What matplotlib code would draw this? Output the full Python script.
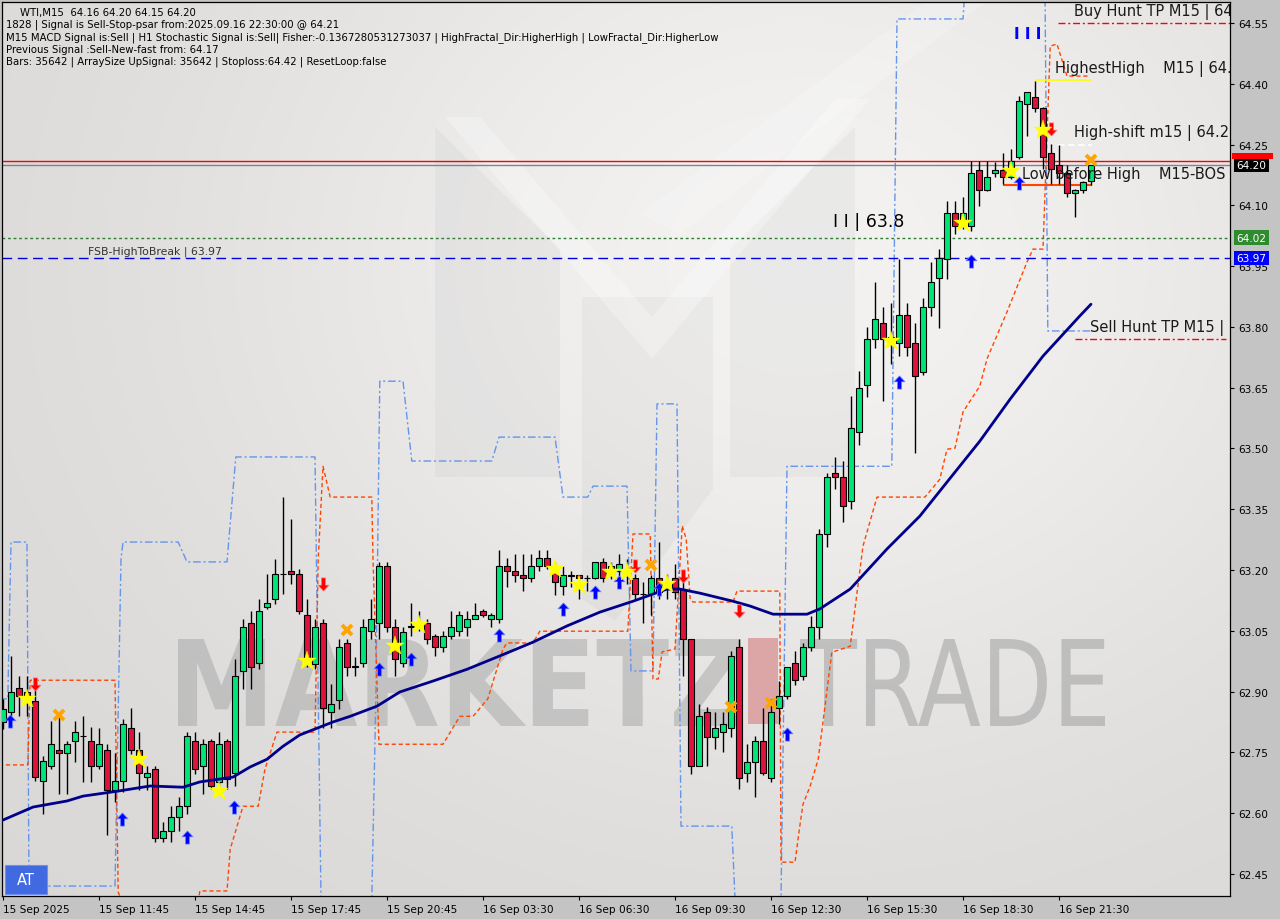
import numpy as np
import matplotlib
matplotlib.use("Agg")
import matplotlib.pyplot as plt
import matplotlib.transforms as mtransforms
from matplotlib.patches import Rectangle, PathPatch, Polygon
from matplotlib.textpath import TextPath
from matplotlib.font_manager import FontProperties
from matplotlib.path import Path

# ---------------- data ----------------
opens = [62.825, 62.849, 62.909, 62.899, 62.876, 62.679, 62.716, 62.755, 62.748, 62.778,
         62.790, 62.778, 62.716, 62.755, 62.657, 62.679, 62.810, 62.755, 62.689, 62.709,
         62.538, 62.556, 62.590, 62.617, 62.778, 62.716, 62.778, 62.677, 62.778, 62.699,
         62.951, 63.069, 62.970, 63.108, 63.128, 63.190, 63.197, 63.190, 63.089, 62.968,
         63.069, 62.849, 62.879, 63.020, 62.960, 62.970, 63.049, 63.069, 63.210, 63.059,
         62.970, 63.059, 63.062, 63.069, 63.037, 63.010, 63.037, 63.049, 63.059, 63.079,
         63.099, 63.079, 63.079, 63.210, 63.197, 63.187, 63.180, 63.210, 63.229, 63.210,
         63.160, 63.187, 63.187, 63.180, 63.180, 63.220, 63.187, 63.197, 63.202, 63.180,
         63.141, 63.141, 63.180, 63.165, 63.180, 63.153, 63.030, 62.716, 62.849, 62.788,
         62.800, 62.810, 63.010, 62.699, 62.726, 62.778, 62.686, 62.859, 62.889, 62.970,
         62.938, 63.010, 63.059, 63.289, 63.439, 63.429, 63.370, 63.540, 63.656, 63.770,
         63.809, 63.770, 63.760, 63.829, 63.760, 63.689, 63.849, 63.920, 63.967, 64.081,
         64.061, 64.049, 64.187, 64.138, 64.180, 64.187, 64.170, 64.219, 64.350, 64.367,
         64.340, 64.229, 64.199, 64.180, 64.130, 64.138, 64.160]
highs = [62.882, 62.988, 62.938, 62.938, 62.926, 62.741, 62.827, 62.839, 62.778, 62.827,
         62.839, 62.812, 62.810, 62.770, 62.748, 62.832, 62.859, 62.800, 62.716, 62.716,
         62.578, 62.617, 62.639, 62.800, 62.800, 62.783, 62.783, 62.800, 62.783, 62.980,
         63.079, 63.099, 63.128, 63.190, 63.227, 63.380, 63.326, 63.202, 63.128, 63.079,
         63.079, 62.918, 63.030, 63.030, 62.985, 63.079, 63.128, 63.220, 63.220, 63.079,
         63.059, 63.118, 63.099, 63.079, 63.042, 63.049, 63.099, 63.099, 63.099, 63.118,
         63.104, 63.094, 63.249, 63.229, 63.239, 63.239, 63.239, 63.249, 63.249, 63.220,
         63.210, 63.197, 63.187, 63.187, 63.220, 63.229, 63.220, 63.239, 63.227, 63.190,
         63.170, 63.187, 63.269, 63.190, 63.215, 63.195, 63.030, 62.869, 62.862, 62.849,
         62.849, 63.000, 63.030, 62.770, 62.790, 62.859, 62.882, 62.926, 62.960, 63.000,
         63.020, 63.086, 63.301, 63.439, 63.479, 63.469, 63.629, 63.691, 63.800, 63.911,
         63.849, 63.859, 63.967, 63.859, 63.809, 63.871, 63.960, 63.992, 64.110, 64.110,
         64.120, 64.209, 64.209, 64.209, 64.207, 64.229, 64.239, 64.370, 64.380, 64.407,
         64.343, 64.251, 64.249, 64.199, 64.140, 64.160, 64.200]
lows = [62.807, 62.839, 62.839, 62.839, 62.679, 62.598, 62.709, 62.647, 62.647, 62.726,
        62.677, 62.677, 62.709, 62.546, 62.627, 62.652, 62.746, 62.657, 62.657, 62.528,
        62.528, 62.528, 62.556, 62.598, 62.696, 62.647, 62.659, 62.659, 62.659, 62.667,
        62.906, 62.906, 62.955, 63.104, 63.116, 63.141, 63.165, 63.091, 62.960, 62.955,
        62.810, 62.810, 62.857, 62.938, 62.938, 62.960, 63.030, 63.030, 63.047, 62.938,
        62.960, 63.037, 63.049, 63.017, 62.987, 62.997, 63.030, 63.037, 63.037, 63.079,
        63.084, 63.059, 63.069, 63.158, 63.170, 63.148, 63.170, 63.197, 63.202, 63.138,
        63.138, 63.158, 63.128, 63.148, 63.178, 63.170, 63.178, 63.178, 63.165, 63.128,
        63.069, 63.089, 63.128, 63.128, 63.128, 62.938, 62.696, 62.716, 62.716, 62.758,
        62.751, 62.788, 62.659, 62.677, 62.639, 62.694, 62.677, 62.820, 62.882, 62.916,
        62.928, 63.000, 63.030, 63.257, 63.400, 63.318, 63.350, 63.508, 63.627, 63.748,
        63.617, 63.708, 63.728, 63.728, 63.489, 63.681, 63.827, 63.797, 63.918, 64.029,
        64.041, 64.036, 64.098, 64.135, 64.170, 64.152, 64.165, 64.214, 64.271, 64.330,
        64.190, 64.152, 64.152, 64.120, 64.071, 64.130, 64.150]
closes = [62.857, 62.899, 62.889, 62.889, 62.689, 62.728, 62.770, 62.748, 62.770, 62.800,
          62.791, 62.716, 62.770, 62.657, 62.679, 62.820, 62.755, 62.699, 62.699, 62.538,
          62.556, 62.590, 62.617, 62.790, 62.709, 62.770, 62.667, 62.770, 62.684, 62.938,
          63.059, 62.960, 63.099, 63.118, 63.190, 63.191, 63.190, 63.099, 62.968, 63.059,
          62.859, 62.869, 63.010, 62.960, 62.963, 63.059, 63.079, 63.210, 63.059, 62.980,
          63.047, 63.062, 63.064, 63.030, 63.010, 63.037, 63.059, 63.089, 63.079, 63.089,
          63.089, 63.089, 63.210, 63.197, 63.187, 63.180, 63.210, 63.229, 63.210, 63.170,
          63.187, 63.186, 63.180, 63.181, 63.220, 63.180, 63.210, 63.215, 63.190, 63.141,
          63.142, 63.180, 63.146, 63.153, 63.146, 63.030, 62.716, 62.839, 62.788, 62.810,
          62.820, 62.988, 62.686, 62.726, 62.778, 62.699, 62.849, 62.889, 62.960, 62.928,
          63.010, 63.059, 63.289, 63.429, 63.429, 63.358, 63.550, 63.649, 63.770, 63.819,
          63.770, 63.775, 63.829, 63.750, 63.679, 63.849, 63.911, 63.970, 64.081, 64.049,
          64.081, 64.180, 64.138, 64.170, 64.187, 64.170, 64.209, 64.357, 64.380, 64.340,
          64.219, 64.190, 64.180, 64.130, 64.138, 64.157, 64.200]

time_ticks = [0, 12, 24, 36, 48, 60, 72, 84, 96, 108, 120, 132]
time_labels = ["15 Sep 2025", "15 Sep 11:45", "15 Sep 14:45", "15 Sep 17:45", "15 Sep 20:45",
               "16 Sep 03:30", "16 Sep 06:30", "16 Sep 09:30", "16 Sep 12:30", "16 Sep 15:30",
               "16 Sep 18:30", "16 Sep 21:30"]
price_ticks = [62.45, 62.60, 62.75, 62.90, 63.05, 63.20, 63.35, 63.50, 63.65, 63.80,
               63.95, 64.10, 64.25, 64.40, 64.55]

ma_idx = [0, 3.75, 8, 10, 14.25, 18.4, 22.5, 24.6, 28.75, 30.9, 33, 35, 37.1, 41.25, 43.4,
          46.75, 49.6, 53.75, 58, 62.1, 66.25, 70.5, 74.6, 78.75, 83, 84.6, 87.1, 91.25,
          93.4, 96.25, 100.5, 102.1, 105.9, 110.5, 114.6, 118, 122.1, 125.9, 130, 134.6, 136]
ma_val = [62.583, 62.615, 62.630, 62.642, 62.654, 62.667, 62.664, 62.677, 62.689, 62.714,
          62.733, 62.765, 62.793, 62.825, 62.839, 62.864, 62.899, 62.926, 62.955, 62.988,
          63.022, 63.062, 63.096, 63.123, 63.153, 63.153, 63.143, 63.123, 63.111, 63.091,
          63.091, 63.104, 63.153, 63.252, 63.333, 63.417, 63.518, 63.622, 63.728, 63.827,
          63.856]

blue_idx = [-1, 0.6, 1.0, 3.0, 3.25, 14.0, 14.75, 15.0, 21.9, 23.0, 28.0, 29.1, 39.0, 39.75,
            46.1, 46.6, 47.1, 50.0, 51.1, 61.1, 62.0, 69.0, 70.0, 73.1, 73.75, 78.0, 78.5,
            81.25, 81.75, 84.25, 84.75, 91.1, 91.5, 97.25, 98.0, 111.1, 111.75, 120.0,
            120.25, 130.25, 130.6, 135.9]
blue_val = [62.882, 62.882, 63.269, 63.269, 62.420, 62.420, 63.227, 63.269, 63.269, 63.220,
            63.220, 63.479, 63.479, 62.388, 62.388, 62.882, 63.666, 63.666, 63.469, 63.469,
            63.528, 63.528, 63.380, 63.380, 63.407, 63.407, 62.951, 62.951, 63.610, 63.610,
            62.568, 62.568, 62.388, 62.388, 63.456, 63.456, 64.560, 64.560, 64.634, 64.634,
            63.790, 63.790]

orange_idx = [-1, 3.1, 3.4, 14.0, 14.4, 15.0, 24.4, 24.6, 28.0, 28.4, 30.0, 31.9, 32.75,
              34.25, 39.0, 39.4, 40.0, 40.9, 46.1, 46.25, 47.0, 55.0, 57.1, 58.75, 60.6,
              62.5, 63.0, 66.25, 67.1, 78.1, 78.75, 80.9, 81.25, 81.9, 82.4, 84.0, 84.9,
              85.4, 85.9, 86.25, 91.25, 91.75, 97.1, 97.25, 99.0, 99.6, 100.0, 100.9, 101.9,
              102.5, 103.6, 105.9, 107.5, 109.25, 115.25, 117.1, 118.0, 119.0, 120.0, 122.1,
              123.0, 125.5, 128.0, 128.75, 130.0, 130.9, 131.75, 133.0, 135.9]
orange_val = [62.719, 62.719, 62.928, 62.928, 62.405, 62.376, 62.376, 62.408, 62.408, 62.511,
              62.617, 62.617, 62.709, 62.800, 62.800, 63.227, 63.456, 63.380, 63.380, 63.227,
              62.770, 62.770, 62.839, 62.839, 62.882, 63.005, 63.020, 63.020, 63.049, 63.049,
              63.289, 63.289, 62.931, 62.931, 62.998, 63.005, 63.309, 63.277, 63.128, 63.121,
              63.121, 63.148, 63.148, 62.479, 62.479, 62.568, 62.622, 62.667, 62.733, 62.825,
              62.997, 63.012, 63.259, 63.380, 63.380, 63.424, 63.498, 63.501, 63.590, 63.654,
              63.721, 63.837, 63.960, 63.992, 63.992, 64.493, 64.498, 64.419, 64.419]

buy_arrow_idx = [0.9, 14.9, 23, 28.9, 47, 51, 62, 70, 74, 77, 82, 98, 112, 121, 127]
buy_arrow_val = [62.827, 62.585, 62.541, 62.615, 62.955, 62.980, 63.039, 63.104, 63.146,
                 63.170, 63.153, 62.795, 63.664, 63.962, 64.155]
sell_arrow_idx = [4, 40, 79, 85, 92, 131]
sell_arrow_val = [62.918, 63.165, 63.210, 63.185, 63.099, 64.288]
star_idx = [3, 17, 27, 38, 49, 52, 69, 72, 76, 78, 83, 111, 120, 126, 130]
star_val = [62.882, 62.733, 62.654, 62.975, 63.012, 63.064, 63.202, 63.163, 63.195, 63.195,
            63.165, 63.765, 64.056, 64.184, 64.286]
cross_idx = [7, 43, 81, 91, 96, 136]
cross_val = [62.842, 63.052, 63.212, 62.862, 62.872, 64.212]

level_signal = 64.21
level_bid = 64.20
level_green = 64.02
level_fsb = 63.97
level_buy_tp = 64.55
level_sell_tp = 63.77
level_highest = 64.41
level_highshift = 64.25
level_lowbefore = 64.15

header_lines = [
    "WTI,M15  64.16 64.20 64.15 64.20",
    "1828 | Signal is Sell-Stop-psar from:2025.09.16 22:30:00 @ 64.21",
    "M15 MACD Signal is:Sell | H1 Stochastic Signal is:Sell| Fisher:-0.1367280531273037 | HighFractal_Dir:HigherHigh | LowFractal_Dir:HigherLow",
    "Previous Signal :Sell-New-fast from: 64.17",
    "Bars: 35642 | ArraySize UpSignal: 35642 | Stoploss:64.42 | ResetLoop:false",
]

# ---------------- figure / axes ----------------
W, H = 1280, 920
fig = plt.figure(figsize=(W / 100, H / 100), dpi=100, facecolor="#c4c4c4")
L, R, T, B = 2, 1230, 3, 897
ax = fig.add_axes([L / W, (H - B) / H, (R - L) / W, (B - T) / H])

PX = 405.2          # pixels per price unit
BAR = 8.0           # pixels per bar
ymax = 64.55 + (24 - T) / PX
ymin = 64.55 - (B - 24) / PX
xmin = (L - 3) / BAR
xmax = (R - 3) / BAR

pix = mtransforms.Affine2D().scale(1, -1).translate(0, H)   # image-pixel -> display

# background gradient
gx = np.linspace(0, 1228, 160)
gy = np.linspace(0, 894, 120)
GX, GY = np.meshgrid(gx, gy)
v = 0.845 + 0.105 * np.exp(-((GX - 800) / 620) ** 2 - ((GY - 260) / 520) ** 2)
img = np.dstack([v + 0.004, v, v - 0.004])
ax.imshow(np.clip(img, 0, 1), extent=[xmin, xmax, ymin, ymax], origin="upper",
          aspect="auto", zorder=0, interpolation="bilinear")

# ---------------- watermark ----------------
def add_poly(pts, color, alpha, z=0.5):
    ax.add_patch(Polygon(pts, closed=True, facecolor=color, edgecolor="none", alpha=alpha,
                         transform=pix, zorder=z))

add_poly([(435, 128), (560, 250), (560, 478), (435, 478)], "#b0b0b0", 0.12)
add_poly([(730, 250), (855, 128), (855, 478), (730, 478)], "#b0b0b0", 0.12)
add_poly([(582, 298), (713, 298), (713, 490), (615, 622), (582, 600)], "#b0b0b0", 0.12)
add_poly([(445, 118), (480, 118), (652, 318), (835, 100), (870, 100), (652, 360)], "#ffffff", 0.28)
add_poly([(640, 215), (930, 0), (990, 0), (680, 235)], "#ffffff", 0.2)


def fit_text(s, x0, y0, x1, y1, color, alpha, family="DejaVu Sans", weight="bold"):
    fp = FontProperties(family=family, weight=weight)
    tp = TextPath((0, 0), s, size=100, prop=fp)
    bb = tp.get_extents()
    tr = (mtransforms.Affine2D().translate(-bb.x0, -bb.y0)
          .scale((x1 - x0) / bb.width, (y1 - y0) / bb.height)
          .translate(x0, H - y1))
    ax.add_patch(PathPatch(tr.transform_path(tp), facecolor=color, edgecolor="none",
                           alpha=alpha, transform=mtransforms.IdentityTransform(), zorder=0.6))

fit_text("MARKETZ", 178, 640, 742, 727, "#9a9a9a", 0.42)
ax.add_patch(Rectangle((748, 639), 30, 86, transform=pix, facecolor="#dca6a6",
                       edgecolor="none", zorder=0.6))
fit_text("TRADE", 800, 640, 1105, 727, "#9a9a9a", 0.5, weight="normal")

# ---------------- indicator lines ----------------
ax.plot(blue_idx, blue_val, color="#6495ed", lw=1.0, ls=(0, (5.5, 2, 1.5, 2)), zorder=2)
ax.plot(orange_idx, orange_val, color="#ff4500", lw=1.0, ls=(0, (3, 2)), zorder=2)

ax.axhline(level_green, color="#2e7d32", lw=1.0, ls=(0, (2, 2)), zorder=2)
ax.axhline(level_fsb, color="#0000e0", lw=1.0, ls=(0, (7, 4)), zorder=2)
ax.axhline(level_bid, color="#7b8590", lw=1.0, zorder=2)
ax.axhline(level_signal, color="#ff0000", lw=1.0, zorder=2)

ax.hlines(level_buy_tp, 131.9, xmax, color="#ff0000", lw=1.0, ls=(0, (5, 2, 1.5, 2)), zorder=2)
ax.hlines(level_sell_tp, 134.0, 152.9, color="#ff0000", lw=1.0, ls=(0, (5, 2, 1.5, 2)), zorder=2)
ax.hlines(level_highest, 129.0, 136.1, color="#ffff00", lw=1.2, zorder=2)
ax.hlines(level_highshift, 131.9, 136.1, color="#ffffff", lw=1.2, ls=(0, (4, 2)), zorder=2)
ax.hlines(level_lowbefore, 125.0, 136.1, color="#ff4500", lw=1.5, zorder=2)

# ---------------- candles ----------------
idx = np.arange(len(opens))
o = np.array(opens); c = np.array(closes); hi = np.array(highs); lo = np.array(lows)
ax.vlines(idx, lo, hi, color="black", lw=1.0, zorder=3)
up = c >= o
cols = np.where(up, "#00e676", "#dc143c")
ax.bar(idx, c - o, bottom=o, width=0.72, color=cols, edgecolor="black", linewidth=0.8,
       zorder=4)

ax.plot(ma_idx, ma_val, color="#00008b", lw=2.0, zorder=5, solid_capstyle="round")

# ---------------- signal markers ----------------
up_arrow = Path([(0, 1), (0.85, 0.1), (0.32, 0.1), (0.32, -1), (-0.32, -1), (-0.32, 0.1),
                 (-0.85, 0.1), (0, 1)], closed=True)
down_arrow = Path([(0, -1), (0.85, -0.1), (0.32, -0.1), (0.32, 1), (-0.32, 1), (-0.32, -0.1),
                   (-0.85, -0.1), (0, -1)], closed=True)
ax.plot(buy_arrow_idx, buy_arrow_val, ls="none", marker=up_arrow, ms=9.5, color="#0000ff",
        mec="#6f8fff", mew=0.5, zorder=7)
ax.plot(sell_arrow_idx, sell_arrow_val, ls="none", marker=down_arrow, ms=9.5, color="#ff0000",
        mec="#ff8080", mew=0.5, zorder=7)
ax.plot(star_idx, star_val, ls="none", marker="*", ms=14, color="#ffff00", mec="#ffff00",
        mew=0.3, zorder=7)
ax.plot(cross_idx, cross_val, ls="none", marker="x", ms=7.5, color="#ffa500", mew=2.8,
        zorder=7)

# ---------------- chart labels ----------------
lab_font = dict(family="DejaVu Sans", fontsize=10.5, color="#1a1a1a", va="center",
                ha="left", clip_on=True, zorder=8)
ax.text(133.9, 64.580, "Buy Hunt TP M15 | 64", **lab_font)
ax.text(131.5, 64.439, "HighestHigh    M15 | 64.4", **lab_font)
ax.text(133.9, 64.281, "High-shift m15 | 64.2", **lab_font)
ax.text(127.4, 64.179, "Low before High    M15-BOS", **lab_font)
ax.text(135.9, 63.800, "Sell Hunt TP M15 |", **lab_font)
ax.text(10.6, 63.975, "FSB-HighToBreak | 63.97", family="DejaVu Sans", fontsize=7.8,
        color="#333333", va="bottom", ha="left", zorder=8)
ax.text(103.7, 64.061, "I I | 63.8", family="DejaVu Sans", fontsize=12.5, color="black",
        va="center", ha="left", zorder=8)
ax.text(128.1, 64.525, "I I I", family="DejaVu Sans", fontsize=11, fontweight="bold",
        color="#0000ff", va="center", ha="center", zorder=8)

# header text
for k, line in enumerate(header_lines):
    x0 = 20 if k == 0 else 6
    fig.text(x0 / W, 1 - (13 + 12.2 * k) / H, line, family="DejaVu Sans", fontsize=7.3,
             color="black", va="center", ha="left", zorder=10)

# AT box
fig.patches.append(Rectangle((5, 866), 42, 29, transform=pix, facecolor="#4169e1",
                             edgecolor="#6f8fef", lw=0.8, figure=fig, zorder=9))
fig.text(26 / W, 1 - 881 / H, "AT", color="white", fontsize=10.5, ha="center", va="center",
         family="DejaVu Sans", zorder=11)

# ---------------- axes styling ----------------
ax.set_xlim(xmin, xmax)
ax.set_ylim(ymin, ymax)
ax.yaxis.tick_right()
ax.set_yticks(price_ticks)
ax.set_yticklabels([f"{p:.2f}" for p in price_ticks])
ax.set_xticks(time_ticks)
ax.set_xticklabels(time_labels, ha="left")
ax.tick_params(axis="y", direction="out", length=3, width=0.8, pad=3, labelsize=7.6,
               colors="black")
ax.tick_params(axis="x", direction="out", length=3, width=0.8, pad=2.5, labelsize=7.6,
               colors="black")
for lbl in ax.get_xticklabels() + ax.get_yticklabels():
    lbl.set_family("DejaVu Sans")
for sp in ax.spines.values():
    sp.set_color("black")
    sp.set_linewidth(0.9)

# price boxes on right axis
def price_box(p, txt, fc, tc="white"):
    ax.annotate(txt, xy=(1.0, p), xycoords=("axes fraction", "data"), xytext=(4.5, 0),
                textcoords="offset points", ha="left", va="center", fontsize=7.6,
                family="DejaVu Sans", color=tc, annotation_clip=False, zorder=12,
                bbox=dict(boxstyle="square,pad=0.22", fc=fc, ec="none"))

# signal-price marker (64.21) sits almost fully behind the 64.20 bid box: only its top shows
fig.patches.append(Rectangle((1232, 154), 41, 6, transform=pix, facecolor="#ff0000",
                             edgecolor="none", figure=fig, zorder=9))
price_box(level_bid, "64.20", "#000000")
price_box(level_green, "64.02", "#2e8b2e")
price_box(level_fsb, "63.97", "#0000ff")

fig.savefig("out.png", dpi=100, facecolor=fig.get_facecolor())
